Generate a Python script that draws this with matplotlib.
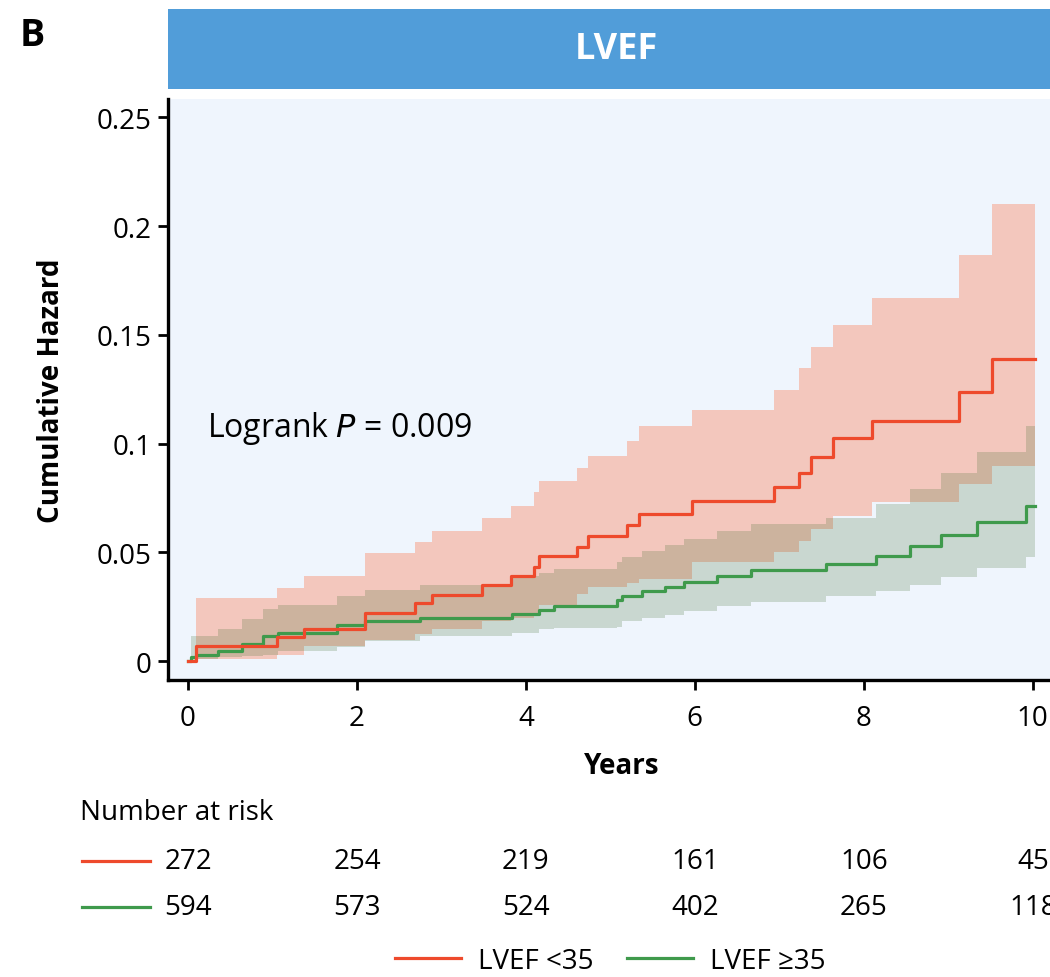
import matplotlib
matplotlib.use("Agg")
import matplotlib.pyplot as plt
from matplotlib.lines import Line2D
import matplotlib.transforms as mtransforms

plt.rcParams['font.family'] = ['Open Sans', 'DejaVu Sans']

# LVEF <35 (red)
red_t = [0, 0.10, 1.05, 1.37, 2.10, 2.69, 2.89, 3.48, 3.82, 4.09, 4.16, 4.60, 4.74,
         5.20, 5.34, 5.97, 6.94, 7.23, 7.38, 7.63, 8.10, 9.13, 9.52]
red_h = [0, 0.0068, 0.0112, 0.0149, 0.0220, 0.0265, 0.0304, 0.0348, 0.0390, 0.0433,
         0.0482, 0.0523, 0.0575, 0.0626, 0.0676, 0.0736, 0.0799, 0.0863, 0.0939,
         0.1024, 0.1105, 0.1235, 0.1390]
red_hi = [0, 0.0288, 0.0334, 0.0390, 0.0497, 0.0546, 0.0600, 0.0656, 0.0714, 0.0776,
          0.0829, 0.0886, 0.0945, 0.1013, 0.1079, 0.1156, 0.1246, 0.1346, 0.1445,
          0.1546, 0.1669, 0.1867, 0.2101]
red_lo = [0, 0.0010, 0.0030, 0.0070, 0.0095, 0.0124, 0.0147, 0.0185, 0.0200, 0.0220,
          0.0257, 0.0310, 0.0339, 0.0360, 0.0377, 0.0457, 0.0500, 0.0553, 0.0607,
          0.0668, 0.0730, 0.0814, 0.0898]

# LVEF >=35 (green)
grn_t = [0, 0.04, 0.10, 0.36, 0.64, 0.89, 1.07, 1.76, 2.10, 2.75, 3.83, 4.15, 4.33,
         5.08, 5.14, 5.38, 5.65, 5.87, 6.26, 6.66, 7.55, 8.14, 8.55, 8.91, 9.34, 9.92]
grn_h = [0, 0.0020, 0.0030, 0.0045, 0.0080, 0.0117, 0.0130, 0.0167, 0.0185, 0.0200,
         0.0216, 0.0236, 0.0254, 0.0280, 0.0297, 0.0321, 0.0340, 0.0365, 0.0393,
         0.0419, 0.0446, 0.0484, 0.0527, 0.0579, 0.0638, 0.0711]
grn_hi = [0, 0.0117, 0.0117, 0.0147, 0.0193, 0.0239, 0.0260, 0.0300, 0.0328, 0.0352,
          0.0392, 0.0405, 0.0423, 0.0457, 0.0477, 0.0507, 0.0533, 0.0561, 0.0598,
          0.0630, 0.0660, 0.0720, 0.0790, 0.0864, 0.0959, 0.1080]
grn_lo = [0, 0.0005, 0.0010, 0.0017, 0.0024, 0.0030, 0.0047, 0.0063, 0.0093, 0.0117,
          0.0130, 0.0147, 0.0150, 0.0155, 0.0185, 0.0200, 0.0214, 0.0231, 0.0251,
          0.0273, 0.0300, 0.0323, 0.0349, 0.0385, 0.0426, 0.0477]
t_end = 10.03

risk_years = [0, 2, 4, 6, 8, 10]
risk_red = [272, 254, 219, 161, 106, 45]
risk_grn = [594, 573, 524, 402, 265, 118]

labels = ['LVEF <35', 'LVEF \u226535']
red_c = '#ee4a2c'
grn_c = '#3f9a4c'
fs = 20

fig = plt.figure(figsize=(10.5, 9.78), dpi=100)
ax = fig.add_axes([168 / 1050, 1 - 681 / 978, 907 / 1050, 581 / 978])
ax.set_facecolor('#eff5fd')


def ext(t, v):
    return list(t) + [t_end], list(v) + [v[-1]]


tt, lo = ext(red_t, red_lo)
_, hi = ext(red_t, red_hi)
ax.fill_between(tt, lo, hi, step='post', color=(1.0, 0.37, 0.16), alpha=0.3, lw=0)
tt, lo = ext(grn_t, grn_lo)
_, hi = ext(grn_t, grn_hi)
ax.fill_between(tt, lo, hi, step='post', color=(0.27, 0.43, 0.2), alpha=0.22, lw=0)

tt, h = ext(grn_t, grn_h)
ax.step(tt, h, where='post', color=grn_c, lw=2.3)
tt, h = ext(red_t, red_h)
ax.step(tt, h, where='post', color=red_c, lw=2.3)

ax.set_xlim(-0.237, 10.5)
ax.set_ylim(-0.0087, 0.2584)
ax.set_xticks(risk_years)
ax.set_yticks([0, 0.05, 0.1, 0.15, 0.2, 0.25])
ax.set_yticklabels(['0', '0.05', '0.1', '0.15', '0.2', '0.25'])
for s in ['top', 'right']:
    ax.spines[s].set_visible(False)
for s in ['left', 'bottom']:
    ax.spines[s].set_linewidth(2.4)
ax.tick_params(width=2, length=7, labelsize=fs, pad=5)
ax.tick_params(axis='x', pad=10)

ax.set_xlabel('Years', fontsize=20, fontweight='bold', labelpad=14)
ax.set_ylabel('Cumulative Hazard', fontsize=20, fontweight='bold', labelpad=22)

ax.text(0.22, 0.1075, 'Logrank $\\mathit{P}$ = 0.009', fontsize=23, va='center')

# number at risk
trans = mtransforms.blended_transform_factory(ax.transData, fig.transFigure)
fig.text(80 / 1050, 1 - 813 / 978, 'Number at risk', fontsize=fs, va='center')
for row, (vals, col) in enumerate([(risk_red, red_c), (risk_grn, grn_c)]):
    yy = 1 - (862 + 46 * row) / 978
    fig.add_artist(Line2D([82 / 1050, 150 / 1050], [yy, yy], color=col, lw=2.3))
    for x, v in zip(risk_years, vals):
        ax.text(x, yy, str(v), transform=trans, ha='center', va='center',
                fontsize=fs, clip_on=False)

handles = [Line2D([], [], color=red_c, lw=2.3), Line2D([], [], color=grn_c, lw=2.3)]
fig.legend(handles, labels, loc='center', bbox_to_anchor=(610 / 1050, 1 - 962 / 978),
           ncol=2, frameon=False, fontsize=fs, handlelength=2.4, columnspacing=1.2,
           handletextpad=0.6)

# header bar
hb = fig.add_axes([168 / 1050, 1 - 90 / 978, 882 / 1050, 80 / 978])
hb.set_facecolor('#519dd9')
hb.set_xticks([])
hb.set_yticks([])
for s in hb.spines.values():
    s.set_visible(False)
hb.text(0.508, 0.5, 'LVEF', color='white', fontsize=26, fontweight='bold',
        ha='center', va='center', transform=hb.transAxes)

fig.text(20 / 1050, 1 - 36 / 978, 'B', fontsize=27, fontweight='bold', va='center')

fig.savefig('out.png', dpi=100)
